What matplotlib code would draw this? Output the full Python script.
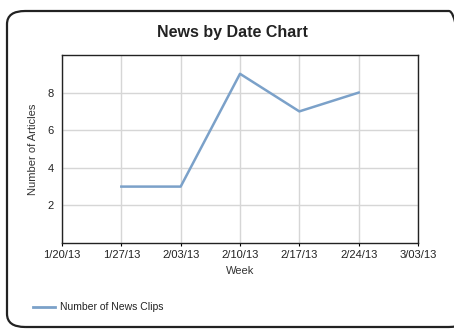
import matplotlib.pyplot as plt
from matplotlib.patches import FancyBboxPatch
from matplotlib.lines import Line2D
import pandas as pd

plt.rcParams['font.family'] = ['Liberation Sans', 'DejaVu Sans']

weeks = ["2013-01-27", "2013-02-03", "2013-02-10", "2013-02-17", "2013-02-24"]
clips = [3, 3, 9, 7, 8]
tick_dates = ["2013-01-20", "2013-01-27", "2013-02-03", "2013-02-10",
              "2013-02-17", "2013-02-24", "2013-03-03"]
tick_labels = ["1/20/13", "1/27/13", "2/03/13", "2/10/13", "2/17/13", "2/24/13", "3/03/13"]

fig = plt.figure(figsize=(4.54, 3.29), dpi=100)

# rounded frame around whole chart
box = FancyBboxPatch((7 / 454, 2 / 329), 460 / 454, 316 / 329,
                     boxstyle="round,pad=0,rounding_size=0.04",
                     transform=fig.transFigure, fill=False,
                     edgecolor='#222222', linewidth=1.6, clip_on=False)
fig.patches.append(box)

ax = fig.add_axes([62 / 454, 1 - 243 / 329, 356 / 454, 188 / 329])
x = pd.to_datetime(weeks)
ax.plot(x, clips, color='#7ba1c9', linewidth=1.8, label='Number of News Clips')

xt = pd.to_datetime(tick_dates)
ax.set_xlim(xt[0], xt[-1])
ax.set_xticks(xt)
ax.set_xticklabels(tick_labels, fontsize=8, color='#222222')
ax.set_ylim(0, 10)
ax.set_yticks([2, 4, 6, 8])
ax.tick_params(axis='y', length=0, labelsize=8, labelcolor='#222222', pad=6)
ax.tick_params(axis='x', length=2, pad=3)
ax.grid(True, color='#d6d6d6', linewidth=1)
ax.set_axisbelow(True)
for s in ax.spines.values():
    s.set_color('#222222')
    s.set_linewidth(1)

ax.set_xlabel('Week', fontsize=8, color='#333333', labelpad=4)
ax.set_ylabel('Number of Articles', fontsize=8, color='#333333', labelpad=7)
fig.text(232 / 454, 1 - 33 / 329, 'News by Date Chart', ha='center', va='center',
         fontsize=11.5, fontweight='bold', color='#222222')

fig.lines.append(Line2D([33 / 454, 55 / 454], [1 - 307 / 329, 1 - 307 / 329],
                        transform=fig.transFigure, color='#7ba1c9', linewidth=2))
fig.text(60 / 454, 1 - 307 / 329, 'Number of News Clips', ha='left', va='center',
         fontsize=7.5, color='#222222')

fig.savefig('out.png', dpi=100)
